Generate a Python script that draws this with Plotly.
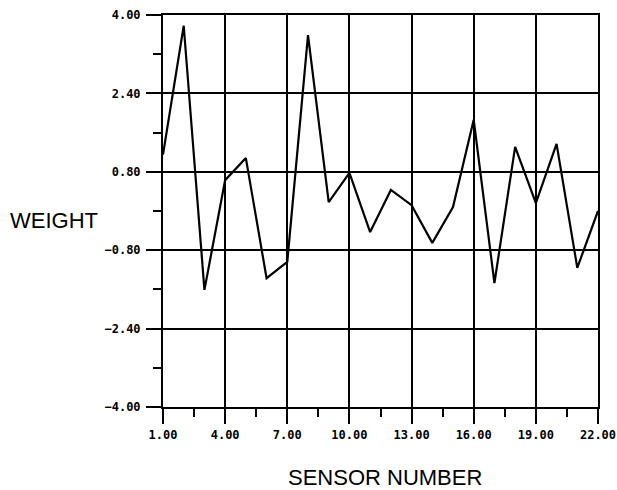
import plotly.graph_objects as go

sensor = list(range(1, 23))
weight = [1.15, 3.78, -1.61, 0.63, 1.08, -1.37, -1.04, 3.59, 0.18, 0.78, -0.43,
          0.43, 0.12, -0.65, 0.08, 1.86, -1.47, 1.31, 0.16, 1.37, -1.16, 0.0]

x_ticks = [1, 4, 7, 10, 13, 16, 19, 22]
y_ticks = [-4.0, -2.4, -0.8, 0.8, 2.4, 4.0]

fig = go.Figure()
fig.add_trace(go.Scatter(x=sensor, y=weight, mode="lines",
                         line=dict(color="black", width=2.2), showlegend=False))

tickfont = dict(family="DejaVu Sans Mono", size=12, color="black", weight="bold")
fig.update_xaxes(range=[1, 22], tickvals=x_ticks, tickformat=".2f",
                 ticks="outside", ticklen=15, tickwidth=2, tickcolor="black",
                 showgrid=True, gridcolor="black", gridwidth=2,
                 showline=True, linecolor="black", linewidth=2, mirror=True,
                 zeroline=False, tickfont=tickfont, automargin=False,
                 ticklabelstandoff=1,
                 minor=dict(dtick=1.5, tick0=1, ticks="outside", ticklen=8,
                            tickwidth=2, tickcolor="black", showgrid=False))
fig.update_yaxes(range=[-4, 4], tickvals=y_ticks, tickformat=".2f",
                 ticks="outside", ticklen=15, tickwidth=2, tickcolor="black",
                 showgrid=True, gridcolor="black", gridwidth=2,
                 showline=True, linecolor="black", linewidth=2, mirror=True,
                 zeroline=False, tickfont=tickfont, ticklabelstandoff=3, automargin=False,
                 minor=dict(dtick=0.8, tick0=0, ticks="outside", ticklen=8,
                            tickwidth=2, tickcolor="black", showgrid=False))

fig.add_annotation(text="WEIGHT", xref="paper", yref="paper", x=-0.2506, y=0.477,
                   xanchor="center", yanchor="middle",
                   showarrow=False, font=dict(family="Liberation Sans", size=22, color="black"))
fig.add_annotation(text="SENSOR NUMBER", xref="paper", yref="paper", x=0.510, y=-0.180,
                   xanchor="center", yanchor="middle",
                   showarrow=False, font=dict(family="Liberation Sans", size=22, color="black"))

fig.update_layout(width=617, height=490,
                  margin=dict(l=163, r=19, t=15, b=83, autoexpand=False),
                  plot_bgcolor="white", paper_bgcolor="white")
fig.write_html("out.html")
